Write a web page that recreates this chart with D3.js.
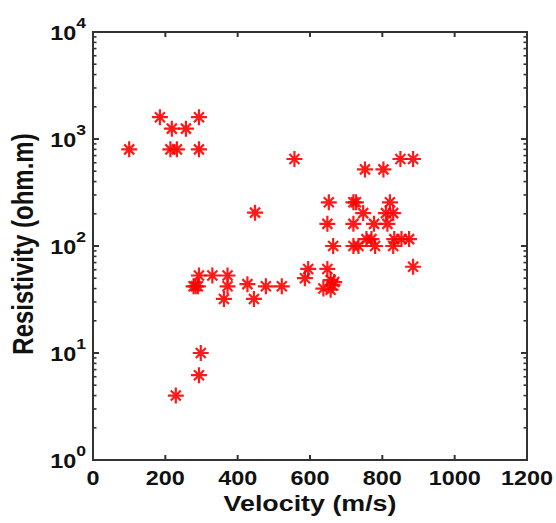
<!DOCTYPE html>
<html>
<head>
<meta charset="utf-8">
<script src="https://cdn.jsdelivr.net/npm/d3@7"></script>
<style>
  body { margin: 0; background: #fff; }
  text { font-family: "Liberation Sans", Arial, sans-serif; font-weight: bold; }
</style>
</head>
<body>
<div class="chart"></div>
<script>
// velocity (m/s) and resistivity (ohm.m)
const velocity = [100, 185, 218, 257, 293, 214, 232, 293, 448, 557,
  752, 803, 850, 885,
  652, 720, 727, 821, 747, 810, 830, 648, 720, 777, 814, 664, 720, 734, 756, 770, 780, 830, 833, 853, 874, 885,
  595, 586, 648, 637, 657, 667, 657, 662,
  293, 330, 372, 278, 284, 290, 372, 362, 427, 445, 478, 522,
  298, 293, 229];
const resistivity = [800, 1600, 1250, 1250, 1600, 800, 800, 800, 205, 650,
  520, 520, 650, 650,
  256, 256, 256, 256, 203, 203, 203, 161, 161, 161, 161, 100, 100, 100, 116, 116, 100, 100, 116, 116, 116, 64,
  61, 50, 61, 40, 48, 46, 39, 43,
  53, 53, 53, 42, 42, 42, 42, 32, 44, 32, 42, 42,
  10, 6.2, 4];
const xTicks = [0, 200, 400, 600, 800, 1000, 1200];
const yExps = [0, 1, 2, 3, 4];

const width = 556, height = 523;
const mLeft = 93, mRight = 527, mTop = 32, mBottom = 460;
const stretch = 1.17; // the picture's text is a bit wide

const svg = d3.select('.chart').append('svg')
  .attr('width', width)
  .attr('height', height);

const x = d3.scaleLinear().domain([0, 1200]).range([mLeft, mRight]);
const y = d3.scaleLog().domain([1, 10000]).range([mBottom, mTop]);

// minor log ticks 2..9 in every decade
const minor = [];
yExps.slice(0, -1).forEach(e => {
  for (let k = 2; k <= 9; k++) minor.push(k * Math.pow(10, e));
});

const g = svg.append('g');

// points
const star = 'M-8,0L8,0M0,-8L0,8M-5,-5L5,5M-5,5L5,-5';
g.selectAll('path.pt')
  .data(velocity)
  .enter()
  .append('path')
  .attr('class', 'pt')
  .attr('d', star)
  .attr('transform', (d, i) => `translate(${x(d)},${y(resistivity[i])})`)
  .attr('stroke', '#ff0000')
  .attr('stroke-width', 2.2)
  .attr('stroke-opacity', 0.9)
  .attr('fill', 'none');

// box
g.append('rect')
  .attr('x', mLeft).attr('y', mTop)
  .attr('width', mRight - mLeft).attr('height', mBottom - mTop)
  .attr('fill', 'none')
  .attr('stroke', '#333')
  .attr('stroke-width', 2);

// x ticks, top and bottom, pointing inward
xTicks.slice(1, -1).forEach(t => {
  g.append('line').attr('x1', x(t)).attr('x2', x(t)).attr('y1', mBottom).attr('y2', mBottom - 5)
    .attr('stroke', '#333').attr('stroke-width', 2);
  g.append('line').attr('x1', x(t)).attr('x2', x(t)).attr('y1', mTop).attr('y2', mTop + 5)
    .attr('stroke', '#333').attr('stroke-width', 2);
});

// y ticks, both sides
yExps.slice(1, -1).forEach(e => {
  const v = Math.pow(10, e);
  [[mLeft, mLeft + 6], [mRight, mRight - 6]].forEach(p => {
    g.append('line').attr('x1', p[0]).attr('x2', p[1]).attr('y1', y(v)).attr('y2', y(v))
      .attr('stroke', '#333').attr('stroke-width', 2);
  });
});
minor.forEach(v => {
  [[mLeft, mLeft + 3.5], [mRight, mRight - 3.5]].forEach(p => {
    g.append('line').attr('x1', p[0]).attr('x2', p[1]).attr('y1', y(v)).attr('y2', y(v))
      .attr('stroke', '#333').attr('stroke-width', 1.6);
  });
});

// x tick labels
svg.selectAll('.xlab')
  .data(xTicks)
  .enter()
  .append('text')
  .attr('class', 'xlab')
  .attr('transform', d => `translate(${x(d)},${mBottom + 25}) scale(${stretch},1)`)
  .attr('text-anchor', 'middle')
  .attr('font-size', 20)
  .attr('fill', '#111')
  .text(d => d);

// y tick labels 10^n
const ylab = svg.selectAll('.ylab')
  .data(yExps)
  .enter()
  .append('text')
  .attr('class', 'ylab')
  .attr('transform', d => `translate(${mLeft - 7},${y(Math.pow(10, d)) + 8}) scale(${stretch},1)`)
  .attr('text-anchor', 'end')
  .attr('font-size', 20)
  .attr('fill', '#111');
ylab.append('tspan').text('10');
ylab.append('tspan')
  .attr('dy', -12)
  .attr('font-size', 15)
  .text(d => d);

// axis titles
svg.append('text')
  .attr('transform', `translate(${(mLeft + mRight) / 2},511) scale(1.22,1)`)
  .attr('text-anchor', 'middle')
  .attr('font-size', 22)
  .attr('fill', '#111')
  .text('Velocity (m/s)');

svg.append('text')
  .attr('transform', `translate(33,244) rotate(-90) scale(1,1.2)`)
  .attr('text-anchor', 'middle')
  .attr('font-size', 24)
  .attr('fill', '#111')
  .text('Resistivity (ohm.m)');
</script>
</body>
</html>
